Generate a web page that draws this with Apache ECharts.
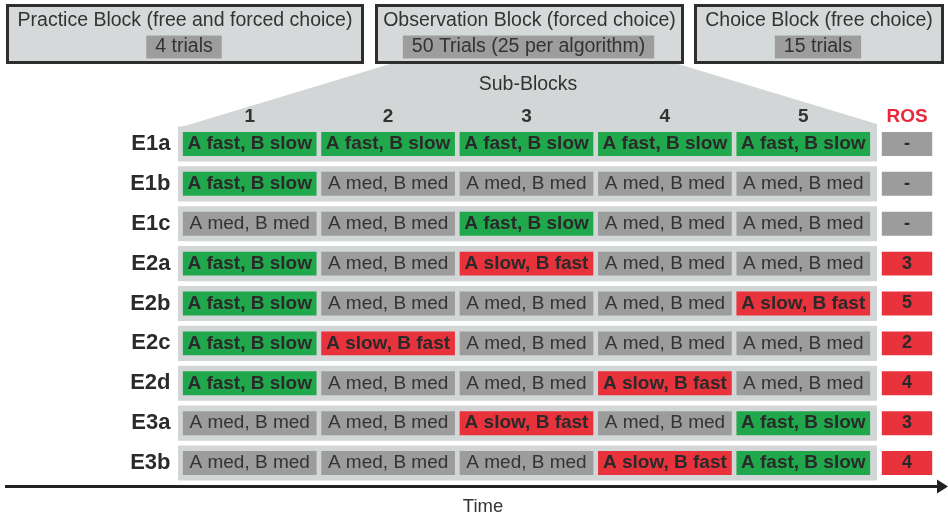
<!DOCTYPE html>
<html><head><meta charset="utf-8">
<script src="https://cdn.jsdelivr.net/npm/echarts@6/dist/echarts.min.js"></script>
<style>html,body{margin:0;padding:0;background:#fff}#c{width:948px;height:520px}</style>
</head><body><div id="c"></div>
<script>
const experiments = ['E1a','E1b','E1c','E2a','E2b','E2c','E2d','E3a','E3b'];
const subBlocks = ['1','2','3','4','5'];
const conditionNames = ['A fast, B slow','A med, B med','A slow, B fast'];
// index into conditionNames for each experiment (row) and sub-block (column)
const schedule = [
  [0,0,0,0,0],
  [0,1,1,1,1],
  [1,1,0,1,1],
  [0,1,2,1,1],
  [0,1,1,1,2],
  [0,2,1,1,1],
  [0,1,1,2,1],
  [1,1,2,1,0],
  [1,1,1,2,0]
];
const rosValues = ['-','-','-','3','5','2','4','3','4'];
const blockTitles = ['Practice Block (free and forced choice)','Observation Block (forced choice)','Choice Block (free choice)'];
const blockTrials = ['4 trials','50 Trials (25 per algorithm)','15 trials'];

const FONT = '"Liberation Sans", Arial, sans-serif';
const GREEN = '#22a84c', RED = '#e8323c', GRAY = '#9c9c9c', BAND = '#d3d6d6', BOXFILL = '#d6d9d9', TXT = '#2a2a2a';
const condColors = [GREEN, GRAY, RED];
const condBold = [true, false, true];

const cellData = [];
schedule.forEach((row, i) => row.forEach((k, j) => cellData.push([j, i, k])));
const rosData = rosValues.map((v, i) => [0, i]);
const bandData = experiments.map((e, i) => [0, i]);

const chart = echarts.init(document.getElementById('c'), null, {renderer: 'canvas'});

// top block boxes
const boxGeo = [[6, 364], [375, 684], [694, 944]];
const graphics = [];
// trapezoid (expansion of observation block)
graphics.push({type: 'polygon', z: 0, shape: {points: [[390, 64], [678, 64], [877, 124], [877, 132], [178, 132], [178, 128]]}, style: {fill: BAND}});
boxGeo.forEach((g, i) => {
  const cx = (g[0] + g[1]) / 2;
  graphics.push({type: 'rect', z: 5, shape: {x: g[0] + 1.5, y: 5.5, width: g[1] - g[0] - 3, height: 57}, style: {fill: BOXFILL, stroke: '#2e2e2e', lineWidth: 3}});
  graphics.push({type: 'text', z: 6, x: cx, y: 21, style: {text: blockTitles[i], font: '19.5px ' + FONT, fill: '#333', align: 'center', verticalAlign: 'middle'}});
  graphics.push({type: 'text', z: 6, x: cx - 1, y: 47, style: {text: blockTrials[i], font: '19.5px ' + FONT, fill: '#333', align: 'center', verticalAlign: 'middle', backgroundColor: '#9d9d9d', padding: [2, 9, 1, 9]}});
});
graphics.push({type: 'text', z: 6, x: 528, y: 85, style: {text: 'Sub-Blocks', font: '19.5px ' + FONT, fill: '#333', align: 'center', verticalAlign: 'middle'}});
// time arrow
graphics.push({type: 'line', z: 6, shape: {x1: 5, y1: 486.5, x2: 940, y2: 486.5}, style: {stroke: '#222', lineWidth: 3}});
graphics.push({type: 'polygon', z: 6, shape: {points: [[937, 479.5], [948, 486.5], [937, 493.5]]}, style: {fill: '#222'}});
graphics.push({type: 'text', z: 6, x: 483, y: 507, style: {text: 'Time', font: '18.5px ' + FONT, fill: '#333', align: 'center', verticalAlign: 'middle'}});

const gridTop = 124, gridH = 359;

chart.setOption({
  backgroundColor: '#fff',
  animation: false,
  graphic: graphics,
  grid: [
    {left: 180.5, top: gridTop, width: 692, height: gridH},
    {left: 879, top: gridTop, width: 56, height: gridH}
  ],
  xAxis: [
    {type: 'category', gridIndex: 0, data: subBlocks, position: 'top',
     axisLine: {show: false}, axisTick: {show: false}, splitLine: {show: false},
     axisLabel: {margin: -2, fontSize: 19, fontWeight: 'bold', color: '#333', fontFamily: FONT}},
    {type: 'category', gridIndex: 1, data: ['ROS'], position: 'top',
     axisLine: {show: false}, axisTick: {show: false}, splitLine: {show: false},
     axisLabel: {margin: -2, fontSize: 19, fontWeight: 'bold', color: '#e8283a', fontFamily: FONT}}
  ],
  yAxis: [
    {type: 'category', gridIndex: 0, data: experiments, inverse: true,
     axisLine: {show: false}, axisTick: {show: false}, splitLine: {show: false},
     axisLabel: {margin: 10, fontSize: 22, fontWeight: 'bold', color: '#2b2b2b', fontFamily: FONT}},
    {type: 'category', gridIndex: 1, data: experiments, inverse: true, show: false}
  ],
  series: [
    {type: 'custom', name: 'bands', xAxisIndex: 0, yAxisIndex: 0, data: bandData, z: 1, silent: true,
     renderItem(params, api) {
       const c = api.coord([0, api.value(1)]);
       const h = api.size([1, 1])[1] * 0.88;
       const cs = params.coordSys;
       return {type: 'rect', shape: {x: cs.x - 2.5, y: c[1] - h / 2, width: cs.width + 7, height: h}, style: {fill: BAND}};
     }},
    {type: 'custom', name: 'cells', xAxisIndex: 0, yAxisIndex: 0, data: cellData, z: 2, silent: true,
     renderItem(params, api) {
       const c = api.coord([api.value(0), api.value(1)]);
       const s = api.size([1, 1]);
       const w = s[0] * 0.966, h = s[1] * 0.6;
       const k = api.value(2);
       return {type: 'rect', shape: {x: c[0] - w / 2, y: c[1] - h / 2, width: w, height: h},
         style: {fill: condColors[k]},
         textContent: {style: {text: conditionNames[k], font: (condBold[k] ? 'bold ' : '') + '19px ' + FONT, fill: condBold[k] ? TXT : '#333'}},
         textConfig: {position: 'inside'}};
     }},
    {type: 'custom', name: 'ROS', xAxisIndex: 1, yAxisIndex: 1, data: rosData, z: 2, silent: true,
     renderItem(params, api) {
       const c = api.coord([0, api.value(1)]);
       const s = api.size([1, 1]);
       const w = s[0] * 0.9, h = s[1] * 0.6;
       const v = rosValues[params.dataIndex];
       return {type: 'rect', shape: {x: c[0] - w / 2, y: c[1] - h / 2, width: w, height: h},
         style: {fill: v === '-' ? GRAY : RED},
         textContent: {style: {text: v, font: 'bold 18px ' + FONT, fill: TXT}},
         textConfig: {position: 'inside'}};
     }}
  ]
});
</script>
</body></html>
